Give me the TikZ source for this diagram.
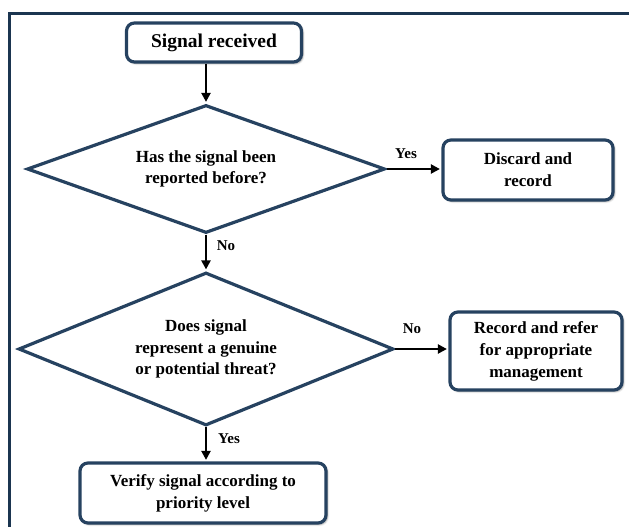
\documentclass[tikz,border=0pt]{standalone}
\usepackage{fontspec}
\setmainfont{Liberation Serif}
\usetikzlibrary{shapes.geometric,arrows.meta,shadows.blur}
\definecolor{frameblue}{RGB}{27,53,80}
\definecolor{boxblue}{RGB}{38,66,96}
\tikzset{
  boxstyle/.style={draw=boxblue, line width=3.2pt, rounded corners=8pt, fill=white,
    align=center, font=\bfseries\fontsize{17}{22}\selectfont, inner sep=2pt,
    blur shadow={shadow blur steps=6, shadow xshift=1.5pt, shadow yshift=-1.5pt, shadow opacity=40}},
  decision/.style={diamond, draw=boxblue, line width=3.2pt, fill=white, align=center,
    font=\bfseries\fontsize{17}{21.5}\selectfont, inner sep=0pt},
  flow/.style={line width=2.2pt, -{Triangle[length=9pt,width=9pt]}, shorten >=1.5pt},
  lbl/.style={font=\bfseries\fontsize{15}{17}\selectfont, inner sep=1pt}
}
\begin{document}
\begin{tikzpicture}[x=1pt,y=-1pt]
\useasboundingbox (0,0) rectangle (629,527);
\clip (0,0) rectangle (629,527);
\draw[frameblue, line width=3pt] (9.5,13.5) rectangle (660,560);
\node[boxstyle, minimum width=175pt, minimum height=39pt, font=\bfseries\fontsize{19.5}{22}\selectfont] (start) at (214,42.5) {Signal received};
\node[decision, shape aspect=2.8, minimum width=358pt, minimum height=128pt] (d1) at (206,169) {Has the signal been\\reported before?};
\node[boxstyle, minimum width=170pt, minimum height=60pt] (discard) at (528,170) {Discard and\\record};
\node[decision, shape aspect=2.45, minimum width=375pt, minimum height=153pt] (d2) at (206,349) {Does signal\\represent a genuine\\or potential threat?};
\node[boxstyle, minimum width=172pt, minimum height=78pt] (refer) at (536,351) {Record and refer\\for appropriate\\management};
\node[boxstyle, minimum width=246pt, minimum height=60pt] (verify) at (203,493) {Verify signal according to\\priority level};
\draw[flow] (start.south -| d1.north) -- (d1.north);
\draw[flow] (d1.east) -- (d1.east -| discard.west);
\draw[flow] (d1.south) -- (d2.north);
\draw[flow] (d2.east) -- (d2.east -| refer.west);
\draw[flow] (d2.south) -- (d2.south |- verify.north);
\node[lbl] (yes1) at (406,154) {Yes};
\node[lbl] (no1) at (226,246) {No};
\node[lbl] (no2) at (412,329) {No};
\node[lbl] (yes2) at (229,439) {Yes};
\end{tikzpicture}
\end{document}
